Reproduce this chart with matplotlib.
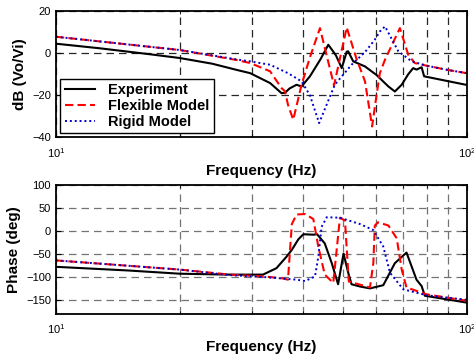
import numpy as np
import matplotlib
matplotlib.use("Agg")
import matplotlib.pyplot as plt
from matplotlib.ticker import LogLocator, NullFormatter

plt.rcParams['font.family'] = ['Liberation Sans', 'DejaVu Sans']

# magnitude (dB)
f_exp_mag = [10, 12.8, 16.9, 20, 24, 27.6, 29.7, 33.2, 35.4, 36.1, 37.0, 38.5, 39.6, 41.5,
             44, 46.0, 48.0, 49.6, 51.0, 51.4, 52.9, 56.5, 60.3, 63, 64.4, 66.8, 69.4, 72,
             74.0, 75.4, 77.6, 78.7, 100]
exp_mag = [4.5, 2.3, -0.5, -2.3, -5, -8, -9.5, -14.2, -19, -18.8, -16.8, -15, -15.8, -11,
           -3, 4.0, -1, -7.1, 0.7, 0.9, -3.9, -6.3, -10.4, -14, -15.8, -18.2, -15, -10,
           -7.1, -7.8, -6.7, -11, -15.1]

f_flex_mag = [10, 20, 27.6, 29.7, 33.2, 35.4, 36.1, 36.7, 37.8, 39.6, 41.5, 43.9, 47.5, 51.0,
              53.8, 56.5, 58.8, 60.3, 61.4, 63.2, 68.7, 72, 74.7, 80, 90, 100]
flex_mag = [7.8, 1.5, -3.3, -4.7, -8.6, -16.6, -18.1, -24.5, -31.6, -15, -2, 11.9, -15.3, 12.2,
            -2.3, -13.4, -34.8, -19.7, -9.5, -3.1, 11.9, -0.8, -4.7, -6, -8, -9.5]

f_rig_mag = [10, 20, 27.6, 29.7, 33.2, 36.7, 39.6, 41.5, 43.7, 47.7, 52.4, 56.5, 59.7, 61.4,
             63.2, 68.1, 73.4, 80, 90, 100]
rig_mag = [7.8, 1.5, -3, -3.9, -5.5, -9.5, -13.4, -20, -33.2, -15, -5.5, 0.5, 6.4, 10.3,
           12.7, 0.9, -3.9, -6, -8, -9.5]

# phase (deg)
f_exp_ph = [10, 15, 20, 26.5, 31.9, 34.4, 36.4, 37.5, 38.9, 40.0, 42.3, 43.2, 45.1, 46.9,
            48.6, 50.1, 51.4, 52.4, 55, 58.1, 62.6, 66.8, 71.3, 75.4, 77.6, 79.0, 100]
exp_ph = [-78, -86, -93, -95, -95, -81, -56, -41, -18, -7, -8, -7, -27, -70,
          -116, -49, -90, -116, -121, -125, -118, -70, -47, -106, -120, -141, -156]

f_flex_ph = [10, 20, 26.5, 32, 35.5, 36.7, 37.5, 38.5, 40.4, 42.3, 43.5, 45.1, 47.3, 48.3,
             49.1, 50.5, 51.6, 58.1, 59.2, 59.7, 60.8, 64.4, 67.5, 69.4, 71.3, 79.8, 100]
flex_ph = [-64, -84, -95, -99, -103, -106, 15, 36, 37, 26, -34, -95, -113, -34,
           29, 23, -110, -123, -70, 12, 19, 12, -16, -84, -123, -138, -152]

f_rig_ph = [10, 20, 26.5, 33, 38.5, 40.4, 42.7, 43.5, 44.3, 45.6, 49.1, 55, 59.2, 62.6,
            65.0, 70.0, 79.8, 100]
rig_ph = [-64, -84, -96, -101, -106, -109, -99, -56, 9, 30, 29, 15, 2, -34,
          -91, -127, -140, -150]

fig = plt.figure(figsize=(4.74, 3.56), dpi=100)
ax1 = fig.add_axes([0.118, 0.614, 0.867, 0.355])
ax2 = fig.add_axes([0.118, 0.119, 0.867, 0.361])

ax1.semilogx(f_exp_mag, exp_mag, color='k', lw=1.5, label='Experiment')
ax1.semilogx(f_flex_mag, flex_mag, color='red', ls=(0, (4, 2)), lw=1.5, label='Flexible Model')
ax1.semilogx(f_rig_mag, rig_mag, color='#0000cc', ls=(0, (1, 1.5)), lw=1.4, label='Rigid Model')

ax2.semilogx(f_exp_ph, exp_ph, color='k', lw=1.5)
ax2.semilogx(f_flex_ph, flex_ph, color='red', ls=(0, (4, 2)), lw=1.5)
ax2.semilogx(f_rig_ph, rig_ph, color='#0000cc', ls=(0, (1, 1.5)), lw=1.4)

ax1.set_ylim(-40, 20)
ax1.set_yticks([-40, -20, 0, 20])
ax2.set_ylim(-180, 100)
ax2.set_yticks([-150, -100, -50, 0, 50, 100])

for ax, gc in ((ax1, '0.15'), (ax2, '0.45')):
    ax.set_xlim(10, 100)
    ax.xaxis.set_minor_locator(LogLocator(base=10, subs=np.arange(2, 10)))
    ax.xaxis.set_minor_formatter(NullFormatter())
    ax.grid(True, which='both', color=gc, ls=(0, (6, 4)), lw=0.9)
    ax.tick_params(which='both', direction='in', labelsize=8, top=True, right=True)
    ax.tick_params(axis='x', pad=6)
    ax.set_xlabel('Frequency (Hz)', fontsize=11, fontweight='bold', labelpad=3)
    for s in ax.spines.values():
        s.set_linewidth(1.3)

ax1.set_ylabel('dB (Vo/Vi)', fontsize=11, fontweight='bold')
ax2.set_ylabel('Phase (deg)', fontsize=11, fontweight='bold')

leg = ax1.legend(loc='lower left', prop={'weight': 'bold', 'size': 10.5},
                 fancybox=False, framealpha=1, edgecolor='k', borderaxespad=0.3,
                 borderpad=0.3, handlelength=2.1, handletextpad=0.9, labelspacing=0.12)
leg.get_frame().set_linewidth(1.0)

fig.savefig('out.png', dpi=100)
